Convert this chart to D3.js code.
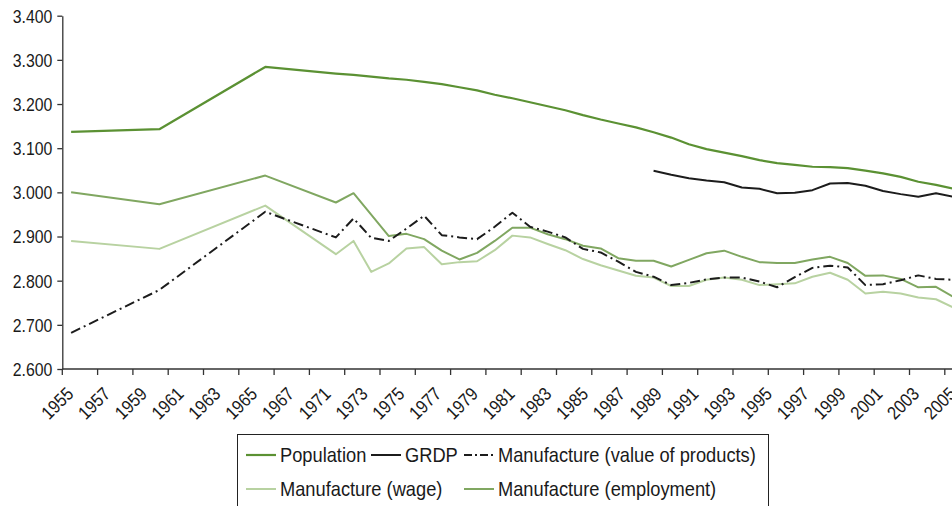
<!DOCTYPE html>
<html>
<head>
<meta charset="utf-8">
<script src="https://cdn.jsdelivr.net/npm/d3@7"></script>
<style>
  html, body { margin: 0; padding: 0; background: #fff; }
  svg { display: block; }
  text { font-family: "Liberation Sans", Arial, sans-serif; fill: #1a1a1a; }
</style>
</head>
<body>
<svg id="chart" width="952" height="506"></svg>
<script>
// Categories: one per year
const years = d3.range(1955, 2006);

// Axis labels along the bottom (every other year, as printed)
const yearLabels = ["1955","1957","1959","1961","1963","1965","1967","1971","1973","1975",
  "1977","1979","1981","1983","1985","1987","1989","1991","1993","1995","1997","1999",
  "2001","2003","2005"];

const yTicks = [2.6, 2.7, 2.8, 2.9, 3.0, 3.1, 3.2, 3.3, 3.4];

const _ = null;
// Series values (log scale index), aligned with `years`
const population = [3.137,_,_,_,_,3.143,_,_,_,_,_,3.284,_,_,_,3.269,3.266,3.262,3.258,3.255,
  3.250,3.245,3.238,3.231,3.221,3.213,3.204,3.195,3.186,3.175,3.165,3.156,3.147,3.136,3.124,
  3.109,3.098,3.090,3.082,3.073,3.066,3.062,3.058,3.057,3.055,3.049,3.043,3.035,3.024,3.017,3.008];

const grdp = [_,_,_,_,_,_,_,_,_,_,_,_,_,_,_,_,_,_,_,_,_,_,_,_,_,_,_,_,_,_,_,_,_,
  3.049,3.040,3.032,3.027,3.023,3.011,3.008,2.998,2.999,3.005,3.020,3.021,3.015,3.003,2.996,
  2.990,2.998,2.990];

const valueOfProducts = [2.682,_,_,_,_,2.779,_,_,_,_,_,2.956,_,_,_,2.898,2.941,2.897,2.890,2.918,
  2.947,2.903,2.898,2.894,2.922,2.954,2.922,2.911,2.898,2.872,2.864,2.843,2.820,2.809,2.790,
  2.795,2.803,2.807,2.807,2.798,2.785,2.808,2.829,2.834,2.830,2.790,2.792,2.801,2.812,2.804,2.802];

const wage = [2.890,_,_,_,_,2.872,_,_,_,_,_,2.970,_,_,_,2.860,2.890,2.820,2.839,2.873,
  2.876,2.837,2.842,2.844,2.869,2.902,2.898,2.883,2.869,2.849,2.835,2.823,2.811,2.807,2.788,
  2.788,2.802,2.807,2.802,2.790,2.792,2.794,2.809,2.818,2.802,2.771,2.775,2.771,2.762,2.758,2.739];

const employment = [3.000,_,_,_,_,2.973,_,_,_,_,_,3.038,_,_,_,2.977,2.998,_,2.901,2.906,
  2.894,2.868,2.848,2.863,2.890,2.920,2.920,2.905,2.894,2.879,2.873,2.851,2.845,2.845,2.832,
  2.847,2.862,2.868,2.854,2.842,2.840,2.840,2.848,2.854,2.840,2.811,2.812,2.804,2.785,2.786,2.763];

const series = [
  { name: "Manufacture (wage)",              values: wage,            color: "#b8d2a1", width: 2,   dash: null },
  { name: "Manufacture (employment)",        values: employment,      color: "#80a761", width: 2,   dash: null },
  { name: "Manufacture (value of products)", values: valueOfProducts, color: "#1c1c1c", width: 2,   dash: "10,4,2,4" },
  { name: "GRDP",                            values: grdp,            color: "#1c1c1c", width: 2,   dash: null },
  { name: "Population",                      values: population,      color: "#5b9133", width: 2.2, dash: null }
];

const svg = d3.select("#chart");
const W = 952;
const plotLeft = 62.3, step = 17.65;
const plotTop = 15.7, plotBottom = 369;
const narrow = 0.88;      // horizontal squeeze giving a condensed face

const x = d3.scaleBand().domain(years).range([plotLeft, plotLeft + step * years.length]).paddingInner(0).paddingOuter(0);
const y = d3.scaleLinear().domain([2.6, 3.4]).range([plotBottom, plotTop]);
const cx = yr => x(yr) + x.bandwidth() / 2;

// Lines
const line = d3.line()
  .x(d => cx(d.year))
  .y(d => y(d.v));

const plot = svg.append("g");
series.forEach(s => {
  const pts = years.map((yr, i) => ({ year: yr, v: s.values[i] })).filter(d => d.v !== null);
  plot.append("path")
    .datum(pts)
    .attr("d", line)
    .attr("fill", "none")
    .attr("stroke", s.color)
    .attr("stroke-width", s.width)
    .attr("stroke-linejoin", "round")
    .attr("stroke-dasharray", s.dash);
});

// Y axis
const yAxis = svg.append("g")
  .attr("transform", `translate(${plotLeft},0)`)
  .call(d3.axisLeft(y).tickValues(yTicks).tickFormat(d3.format(".3f")).tickSize(5).tickSizeOuter(0));
yAxis.select(".domain").attr("stroke", "#333").attr("stroke-width", 1.3);
yAxis.selectAll(".tick line").attr("stroke", "#333").attr("stroke-width", 1.3);
yAxis.selectAll(".tick text")
  .attr("font-size", 18).attr("fill", "#1a1a1a")
  .attr("x", 0).attr("dy", "0.36em")
  .attr("transform", `translate(-10,0) scale(${narrow},1)`);

// X axis: baseline and tick marks at every other category boundary
const xAxis = svg.append("g");
xAxis.append("line")
  .attr("x1", plotLeft).attr("x2", W)
  .attr("y1", plotBottom).attr("y2", plotBottom)
  .attr("stroke", "#333").attr("stroke-width", 1.3);
xAxis.selectAll("line.tick")
  .data(years.filter((d, i) => i % 2 === 0))
  .join("line")
  .attr("class", "tick")
  .attr("x1", d => x(d)).attr("x2", d => x(d))
  .attr("y1", plotBottom).attr("y2", plotBottom + 6)
  .attr("stroke", "#333").attr("stroke-width", 1.3);

// Printed year labels, spread evenly from the first to the last category
const xl = d3.scalePoint().domain(yearLabels).range([cx(1955), cx(2005)]);
const lab = svg.append("g")
  .attr("transform", `translate(0,${plotBottom})`)
  .call(d3.axisBottom(xl).tickSize(0).tickPadding(0));
lab.select(".domain").remove();
lab.selectAll("text")
  .attr("font-size", 18.5)
  .attr("fill", "#1a1a1a")
  .attr("text-anchor", "end")
  .attr("y", 0).attr("dy", 0)
  .attr("transform", `translate(3,26) rotate(-45) scale(${narrow},1)`);

// Legend
const lg = svg.append("g");
lg.append("rect")
  .attr("x", 237.5).attr("y", 434.5)
  .attr("width", 531).attr("height", 100)
  .attr("fill", "none").attr("stroke", "#222").attr("stroke-width", 1);

const legendItems = [
  { s: series[4], x: 246, row: 0 },
  { s: series[3], x: 371, row: 0 },
  { s: series[2], x: 464, row: 0 },
  { s: series[0], x: 246, row: 1 },
  { s: series[1], x: 464, row: 1 }
];
const rowY = [455, 489];
legendItems.forEach(it => {
  const yy = rowY[it.row];
  lg.append("line")
    .attr("x1", it.x).attr("x2", it.x + 30)
    .attr("y1", yy).attr("y2", yy)
    .attr("stroke", it.s.color).attr("stroke-width", it.s.width)
    .attr("stroke-dasharray", it.s.dash ? "8,3,2,3" : null);
  lg.append("text")
    .attr("transform", `translate(${it.x + 34},${yy + 7}) scale(0.87,1)`)
    .attr("font-size", 21)
    .text(it.s.name);
});
</script>
</body>
</html>
